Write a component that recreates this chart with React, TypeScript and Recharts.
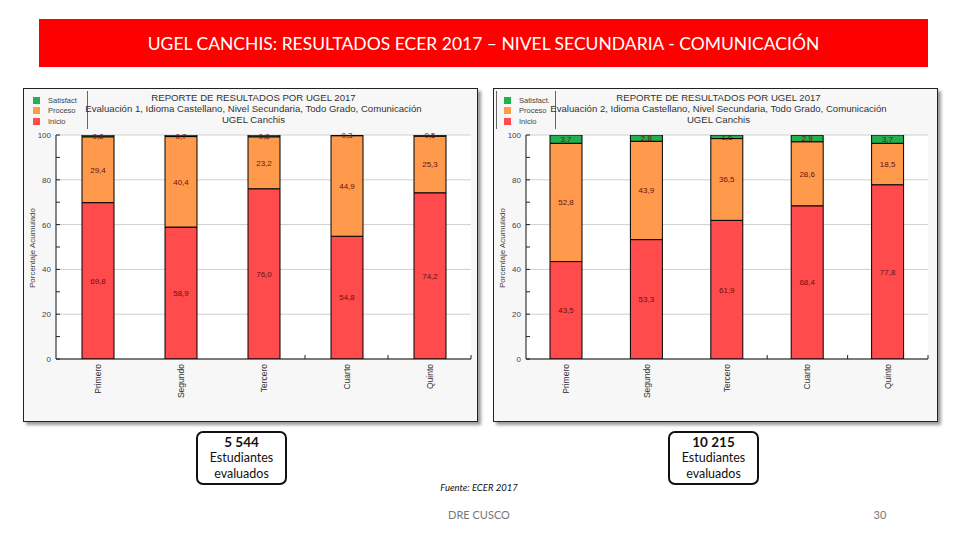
import { BarChart, Bar, XAxis, YAxis, CartesianGrid, LabelList } from "recharts";

// grados evaluados
const GRADES = ["Primero", "Segundo", "Tercero", "Cuarto", "Quinto"];

// Evaluación 1 (%)
const EVAL1_INICIO = [69.8, 58.9, 76.0, 54.8, 74.2];
const EVAL1_PROCESO = [29.4, 40.4, 23.2, 44.9, 25.3];
const EVAL1_SATISF = [0.8, 0.7, 0.8, 0.3, 0.5];

// Evaluación 2 (%)
const EVAL2_INICIO = [43.5, 53.3, 61.9, 68.4, 77.8];
const EVAL2_PROCESO = [52.8, 43.9, 36.5, 28.6, 18.5];
const EVAL2_SATISF = [3.7, 2.8, 1.6, 2.9, 3.7];

const Y_TICKS = [0, 10, 20, 30, 40, 50, 60, 70, 80, 90, 100];
const GRID_VALUES = [0, 20, 40, 60, 80, 100];

const COLORS = {
  INICIO: "#ff4b4b",
  PROCESO: "#ff9a4c",
  SATISF: "#22b04e",
} as const;

const LABEL_COLOR = "#6a1010";
const CHART_FONT = "'Liberation Sans', Arial, sans-serif";

const fmt = (v: any) => Number(v).toFixed(1).replace(".", ",");

type ChartProps = {
  left: number;
  width: number;
  evalNum: number;
  inicio: number[];
  proceso: number[];
  satisf: number[];
  marginRight: number;
  satisfLabel: string;
  legendWidth: number;
};

function ResultChart({ left, width, evalNum, inicio, proceso, satisf, marginRight, satisfLabel, legendWidth }: ChartProps) {
  const height = 334;
  const data = GRADES.map((g, i) => ({
    grado: g,
    inicio: inicio[i],
    proceso: proceso[i],
    satisf: satisf[i],
  }));
  const plotLeft = 32;
  const band = (width - 2 - plotLeft - marginRight) / GRADES.length;

  const YTick = (p: any) => {
    const { x, y, payload } = p;
    const major = payload.value % 20 === 0;
    return (
      <g>
        <line x1={x} x2={x + 4} y1={y} y2={y} stroke="#222" />
        {major && (
          <text x={x - 5} y={y} dy={3} textAnchor="end" fontSize={8} fill="#444" fontFamily={CHART_FONT}>
            {payload.value}
          </text>
        )}
      </g>
    );
  };

  const XTick = (p: any) => {
    const { x, y, payload, index } = p;
    return (
      <g>
        {index >= 2 && (
          <line x1={x + band / 2} x2={x + band / 2} y1={y} y2={y - 4} stroke="#222" />
        )}
        <text
          x={x}
          y={y + 5}
          dy={3}
          textAnchor="end"
          fontSize={8.5}
          fill="#333"
          fontFamily={CHART_FONT}
          transform={`rotate(-90 ${x} ${y + 5})`}
        >
          {payload.value}
        </text>
      </g>
    );
  };

  const gridY = ({ yAxis, offset }: any) =>
    GRID_VALUES.map((v) =>
      yAxis && typeof yAxis.scale === "function"
        ? yAxis.scale(v)
        : offset.top + offset.height * (1 - v / 100),
    );

  const labelProps = {
    position: "center" as const,
    formatter: fmt,
    fill: LABEL_COLOR,
    fontSize: 8,
    fontFamily: CHART_FONT,
  };

  return (
    <div
      style={{
        position: "absolute",
        left,
        top: 88,
        width: width - 2,
        height: height - 2,
        border: "1px solid #222",
        background: "#f7f7f7",
        boxShadow: "3px 3px 3px #9a9a9a",
        fontFamily: CHART_FONT,
      }}
    >
      <BarChart
        width={width - 2}
        height={height - 2}
        data={data}
        margin={{ top: 46, right: marginRight, bottom: 0, left: 0 }}
        barSize={32}
      >
        <CartesianGrid
          vertical={false}
          stroke="#cfcfcf"
          fill="#ffffff"
          horizontalCoordinatesGenerator={gridY}
        />
        <XAxis
          dataKey="grado"
          height={62}
          tickSize={0}
          tickMargin={0}
          tickLine={false}
          tick={<XTick />}
          axisLine={{ stroke: "#111" }}
          interval={0}
        />
        <YAxis
          width={plotLeft}
          domain={[0, 100]}
          ticks={Y_TICKS}
          interval={0}
          tickSize={0}
          tickMargin={0}
          tickLine={false}
          tick={<YTick />}
          axisLine={{ stroke: "#111" }}
          allowDataOverflow
        />
        <Bar dataKey="inicio" stackId="a" fill={COLORS.INICIO} stroke="#000" strokeWidth={1} isAnimationActive={false}>
          <LabelList dataKey="inicio" {...labelProps} />
        </Bar>
        <Bar dataKey="proceso" stackId="a" fill={COLORS.PROCESO} stroke="#000" strokeWidth={1} isAnimationActive={false}>
          <LabelList dataKey="proceso" {...labelProps} />
        </Bar>
        <Bar dataKey="satisf" stackId="a" fill={COLORS.SATISF} stroke="#000" strokeWidth={1} isAnimationActive={false}>
          <LabelList dataKey="satisf" {...labelProps} />
        </Bar>
      </BarChart>

      {/* leyenda */}
      <div
        style={{
          position: "absolute",
          left: 2,
          top: 2,
          width: legendWidth,
          height: 38,
          borderRight: "1px solid #666",
          borderLeft: evalNum === 2 ? "1px solid #666" : "none",
          fontSize: 7.5,
          color: "#444",
        }}
      >
        {[
          { name: satisfLabel, color: COLORS.SATISF },
          { name: "Proceso", color: COLORS.PROCESO },
          { name: "Inicio", color: COLORS.INICIO },
        ].map((it, i) => (
          <div key={it.name} style={{ display: "flex", alignItems: "center", height: 10.5, marginTop: i === 0 ? 4 : 0, whiteSpace: "nowrap" }}>
            <span style={{ display: "inline-block", width: 7, height: 7, background: it.color, marginLeft: 7, marginRight: 8 }} />
            {it.name}
          </div>
        ))}
      </div>

      {/* título */}
      <div
        style={{
          position: "absolute",
          left: 0,
          top: 3,
          width: "100%",
          textAlign: "center",
          fontSize: 9.6,
          lineHeight: "11px",
          color: "#333",
          paddingLeft: 6,
          boxSizing: "border-box",
        }}
      >
        <div>REPORTE DE RESULTADOS POR UGEL 2017</div>
        <div>Evaluación {evalNum}, Idioma Castellano, Nivel Secundaria, Todo Grado, Comunicación</div>
        <div>UGEL Canchis</div>
      </div>

      {/* eje Y */}
      <div
        style={{
          position: "absolute",
          left: 10 - 60,
          top: 159 - 6,
          width: 120,
          height: 12,
          textAlign: "center",
          fontSize: 8,
          color: "#444",
          transform: "rotate(-90deg)",
          whiteSpace: "nowrap",
        }}
      >
        Porcentaje Acumulado
      </div>
    </div>
  );
}

function CountBox({ left, count }: { left: number; count: string }) {
  return (
    <div
      style={{
        position: "absolute",
        left,
        top: 431,
        width: 87,
        height: 49,
        border: "2px solid #111",
        borderRadius: 7,
        textAlign: "center",
        fontFamily: "Lato, 'Open Sans', sans-serif",
        fontSize: 12.5,
        lineHeight: "16px",
        color: "#111",
        paddingTop: 1,
        boxSizing: "content-box",
      }}
    >
      <div style={{ fontWeight: 700, fontSize: 13.5 }}>{count}</div>
      <div>Estudiantes</div>
      <div>evaluados</div>
    </div>
  );
}

export default function App() {
  return (
    <div
      style={{
        position: "absolute",
        left: 0,
        top: 0,
        width: 960,
        height: 540,
        background: "#ffffff",
        overflow: "hidden",
      }}
    >
      <div
        style={{
          position: "absolute",
          left: 39,
          top: 19,
          width: 889,
          height: 48,
          background: "#fe0000",
          color: "#ffffff",
          display: "flex",
          alignItems: "center",
          justifyContent: "center",
          fontFamily: "Lato, 'Open Sans', sans-serif",
          fontSize: 17.5,
        }}
      >
        UGEL CANCHIS: RESULTADOS ECER 2017 – NIVEL SECUNDARIA - COMUNICACIÓN
      </div>

      <ResultChart
        left={23}
        width={455}
        evalNum={1}
        inicio={EVAL1_INICIO}
        proceso={EVAL1_PROCESO}
        satisf={EVAL1_SATISF}
        marginRight={6}
        satisfLabel="Satisfact"
        legendWidth={61}
      />
      <ResultChart
        left={493}
        width={445}
        evalNum={2}
        inicio={EVAL2_INICIO}
        proceso={EVAL2_PROCESO}
        satisf={EVAL2_SATISF}
        marginRight={9}
        satisfLabel="Satisfact."
        legendWidth={58}
      />

      <CountBox left={196} count="5 544" />
      <CountBox left={668} count="10 215" />

      <div
        style={{
          position: "absolute",
          left: 379,
          top: 482,
          width: 200,
          textAlign: "center",
          fontFamily: "Lato, 'Open Sans', sans-serif",
          fontStyle: "italic",
          fontSize: 9.5,
          color: "#111",
        }}
      >
        Fuente: ECER 2017
      </div>
      <div
        style={{
          position: "absolute",
          left: 379,
          top: 508,
          width: 200,
          textAlign: "center",
          fontFamily: "Lato, 'Open Sans', sans-serif",
          fontSize: 11,
          color: "#777",
        }}
      >
        DRE CUSCO
      </div>
      <div
        style={{
          position: "absolute",
          left: 860,
          top: 508,
          width: 40,
          textAlign: "center",
          fontFamily: "Lato, 'Open Sans', sans-serif",
          fontSize: 11,
          color: "#777",
        }}
      >
        30
      </div>
    </div>
  );
}
